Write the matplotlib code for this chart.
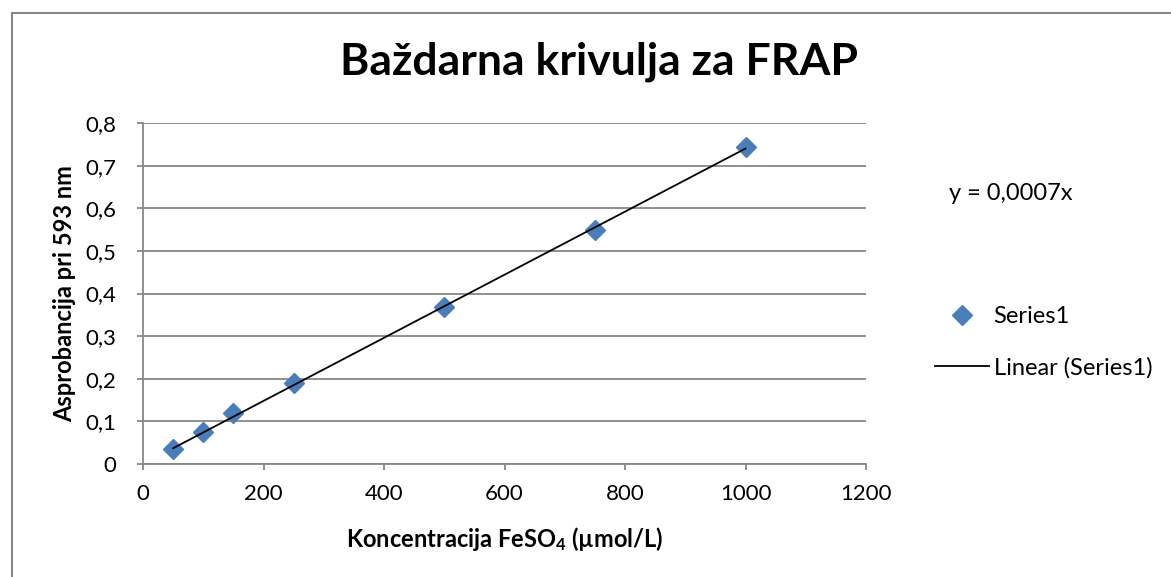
import matplotlib
matplotlib.use("Agg")
import matplotlib.pyplot as plt
from matplotlib.lines import Line2D
import numpy as np

plt.rcParams['font.family'] = ['Lato', 'DejaVu Sans']
plt.rcParams['mathtext.fontset'] = 'custom'
plt.rcParams['mathtext.rm'] = 'Lato:bold'
plt.rcParams['mathtext.default'] = 'rm'

# Calibration data: FeSO4 concentration vs absorbance at 593 nm
concentration = [50, 100, 150, 250, 500, 750, 1000]
absorbance = [0.036, 0.075, 0.120, 0.190, 0.368, 0.549, 0.743]
x_ticks = [0, 200, 400, 600, 800, 1000, 1200]
y_ticks = [0, 0.1, 0.2, 0.3, 0.4, 0.5, 0.6, 0.7, 0.8]

title = "Baždarna krivulja za FRAP"
x_label = r"Koncentracija FeSO$_{4}$ (µmol/L)"
y_label = "Asprobancija pri 593 nm"

W, H = 1171, 577
fig = plt.figure(figsize=(W / 100, H / 100), dpi=100)

grid_col = "#878787"
marker_col = "#4A7EBB"

# Chart-area border (left and top edges visible)
fig.add_artist(Line2D([11.5 / W, 11.5 / W], [0, 1 - 12.5 / H], transform=fig.transFigure,
                      color=grid_col, lw=1.5))
fig.add_artist(Line2D([11.5 / W, 1], [1 - 12.5 / H, 1 - 12.5 / H], transform=fig.transFigure,
                      color=grid_col, lw=1.5))

ax = fig.add_axes([143 / W, (H - 464) / H, 723 / W, 341 / H])

x = np.array(concentration, dtype=float)
y = np.array(absorbance, dtype=float)

# Linear trend forced through the origin
slope = np.sum(x * y) / np.sum(x * x)
xs = np.array([x.min(), x.max()])

ax.plot(x, y, linestyle="none", marker="D", markersize=10.5, color=marker_col,
        label="Series1", zorder=3)
ax.plot(xs, slope * xs, color="black", lw=1.3, label="Linear (Series1)", zorder=4)

ax.set_xlim(0, 1200)
ax.set_ylim(0, 0.8)
ax.set_xticks(x_ticks)
ax.set_yticks(y_ticks)
ax.set_xticklabels([str(t) for t in x_ticks])
ax.set_yticklabels([("%g" % t).replace(".", ",") for t in y_ticks])

ax.yaxis.grid(True, color=grid_col, lw=1.3)
ax.set_axisbelow(True)
for s in ("top", "right"):
    ax.spines[s].set_visible(False)
for s in ("left", "bottom"):
    ax.spines[s].set_color(grid_col)
    ax.spines[s].set_linewidth(1.3)
ax.tick_params(axis="both", colors=grid_col, length=4.5, width=1.3, labelsize=16,
               labelcolor="black")
ax.tick_params(axis="x", pad=10)
ax.tick_params(axis="y", pad=15)

ax.set_xlabel(x_label, fontsize=17, fontweight="bold", labelpad=15)
ax.set_ylabel(y_label, fontsize=17, fontweight="bold", labelpad=6)

fig.text(599 / W, 1 - 62 / H, title, fontsize=32, fontweight="bold",
         ha="center", va="center")

# Trendline equation
eq = "y = " + ("%.4f" % slope).replace(".", ",") + "x"
fig.text(949 / W, 1 - 193 / H, eq, fontsize=17, ha="left", va="center")

# Legend
leg = fig.legend(loc="upper left", bbox_to_anchor=(935 / W, 1 - 306 / H), frameon=False,
                 fontsize=17, handlelength=2.3, handletextpad=0.18, labelspacing=1.27,
                 borderaxespad=0, borderpad=0)

fig.savefig("out.png", dpi=100)
